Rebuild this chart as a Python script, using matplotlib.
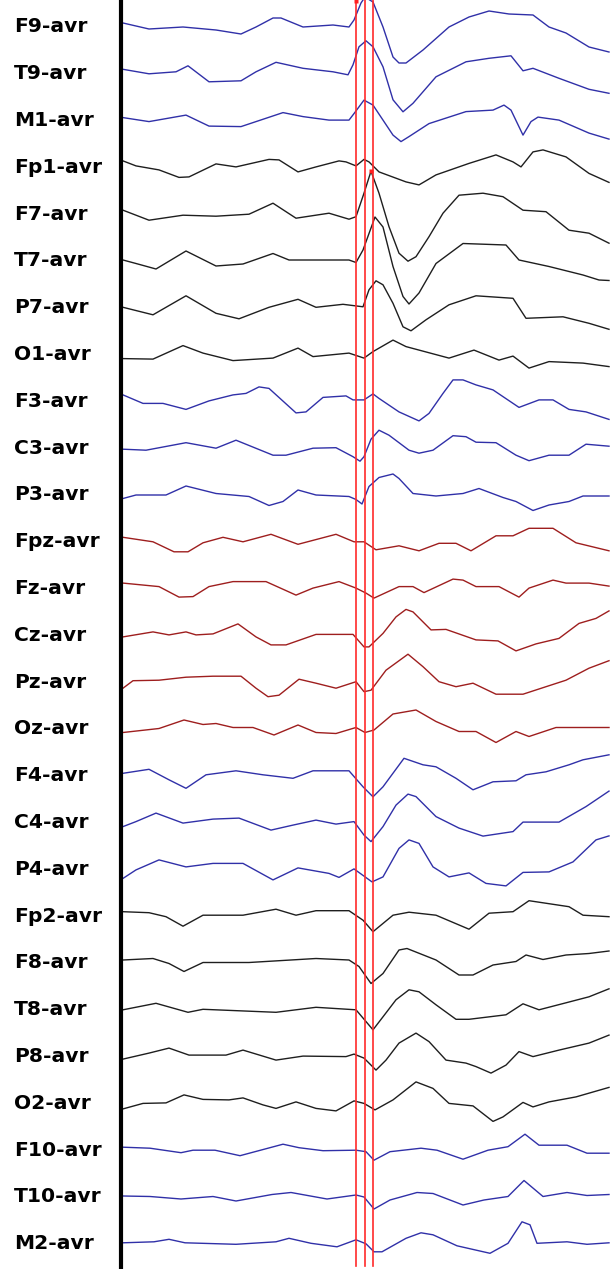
import matplotlib
matplotlib.use("Agg")
import matplotlib.pyplot as plt

# averaged-reference EEG montage, amplitude in display units (up = positive)
channels = ["F9", "T9", "M1", "Fp1", "F7", "T7", "P7", "O1", "F3", "C3", "P3",
            "Fpz", "Fz", "Cz", "Pz", "Oz", "F4", "C4", "P4", "Fp2", "F8", "T8",
            "P8", "O2", "F10", "T10", "M2"]
groups = ["L", "L", "L", "K", "K", "K", "K", "K", "L", "L", "L",
          "Z", "Z", "Z", "Z", "Z", "L", "L", "L", "K", "K", "K",
          "K", "K", "L", "L", "L"]

F9_t = [123, 149, 183, 216, 241, 256, 273, 281, 303, 333, 349, 354, 361, 365, 373, 383, 393, 399, 406, 423, 449, 469, 489, 509, 533, 549, 566, 589, 609]
F9_v = [4, -2, 0, -3, -7, 0, 9, 9, 0, 2, 0, 7, 24, 30, 25, 0, -30, -36, -36, -23, 0, 10, 16, 13, 12, 0, -6, -20, -25]
T9_t = [123, 149, 176, 188, 209, 241, 256, 276, 303, 333, 348, 353, 359, 366, 373, 383, 393, 403, 413, 436, 466, 489, 511, 523, 533, 559, 589, 609]
T9_v = [4.5, 0, 2, 8, -8, -7, 2, 11.5, 5.5, 2, -1, 9, 27, 33, 27, 7, -26, -38, -29.5, -3, 12, 15.5, 18, 3, 5.5, -4.5, -15.5, -19.5]
M1_t = [123, 149, 186, 209, 241, 256, 283, 303, 329, 349, 354, 364, 373, 383, 393, 401, 409, 429, 466, 493, 504, 511, 523, 531, 538, 559, 589, 609]
M1_v = [3, -1, 5.5, -5.5, -6, -1, 8, 4, 0.5, 0.5, 7, 20.5, 15.5, 0.5, -14.5, -21, -16, -3, 9, 10.5, 15.5, 10.5, -14.5, -1, 3.5, 0.5, -12.5, -18.5]
Fp1_t = [123, 136, 159, 179, 189, 216, 236, 269, 279, 298, 316, 339, 346, 356, 364, 369, 379, 406, 419, 436, 469, 496, 513, 521, 533, 543, 566, 589, 609]
Fp1_v = [6.5, 1.5, -2.5, -10, -9.5, 3.5, 0.5, 8, 7.5, -4.5, 0.5, 6.5, 5.5, 1.5, 8, 5.5, -4.5, -14.5, -17.5, -7.5, 4, 12.5, 5.5, 0.5, 15.5, 17.5, 10.5, -6, -15]
F7_t = [123, 149, 183, 216, 249, 273, 296, 329, 349, 356, 364, 371, 379, 389, 399, 408, 416, 429, 443, 459, 483, 503, 523, 546, 569, 589, 609]
F7_v = [4, -6, -1, -2, 0, 11, -4, 1, -5, -2.5, 21, 43, 21, -12.5, -39, -47, -42.5, -22.5, 1, 19, 21, 17.5, 4, 2.5, -16, -19, -29]
T7_t = [123, 136, 156, 186, 216, 243, 273, 289, 349, 356, 363, 375, 383, 393, 403, 409, 419, 436, 463, 506, 519, 549, 583, 599, 609]
T7_v = [1, -2.5, -8, 10, -5, -3, 7.5, 1, 1, -1.5, 11, 44, 34, -5.5, -35.5, -43, -32, -2.5, 17.5, 16, 1, -5.5, -14, -19, -19.5]
P7_t = [123, 153, 186, 216, 239, 269, 298, 316, 343, 363, 369, 376, 383, 393, 403, 411, 426, 449, 476, 513, 526, 563, 589, 609]
P7_v = [0.5, -7, 12, -5.5, -11, 0.5, 8.5, 0.5, 3.5, 1, 18, 27, 23, 4.5, -19, -23, -12, 3, 12, 9.5, -10.5, -9, -15.5, -21.5]
O1_t = [123, 153, 183, 203, 233, 273, 298, 313, 349, 364, 373, 393, 406, 449, 474, 499, 513, 529, 549, 583, 609]
O1_v = [-4, -4.5, 9, 1.5, -6, -3.5, 6.5, -2, 1.5, -3.5, 3, 14.5, 8, -3.5, 4.5, -5.5, -1.5, -13.5, -7, -8.5, -12]
F3_t = [123, 143, 163, 186, 209, 233, 246, 259, 269, 296, 306, 323, 346, 353, 364, 373, 379, 399, 419, 429, 443, 453, 463, 476, 493, 519, 539, 553, 569, 586, 609]
F3_v = [6.5, -2, -2, -8, 0.5, 6.5, 8, 14.5, 13, -11.5, -10.5, 4, 5.5, 1.5, 1.5, 7.5, 3, -10.5, -19.5, -12, 8, 21.5, 21.5, 16.5, 11.5, -6, 1.5, 1.5, -8, -10.5, -18]
C3_t = [123, 146, 186, 216, 236, 273, 286, 313, 336, 353, 360, 364, 371, 379, 389, 409, 419, 433, 453, 466, 476, 496, 516, 529, 549, 569, 586, 609]
C3_v = [-1, -2, 5.5, 0, 8, -7, -7, 0, 0.5, -8.5, -13, -8.5, 9, 18, 13, -2, -5, -2, 12.5, 11.5, 6, 5.5, -7, -12.5, -7, -7, 4, 2]
P3_t = [123, 136, 166, 186, 216, 249, 269, 283, 298, 316, 349, 356, 362, 369, 379, 393, 399, 413, 436, 463, 479, 503, 516, 533, 549, 569, 583, 609]
P3_v = [-3.5, 0, 0, 9, 1.5, -1.5, -10.5, -6.5, 5, 0, -1.5, -4.5, -9, 8.5, 17.5, 21, 16.5, 1.5, -1, 1.5, 6.5, -2.5, -6.5, -15.5, -10, -6.5, -1, -1]
Fpz_t = [123, 153, 174, 188, 203, 223, 243, 271, 298, 336, 354, 364, 376, 399, 419, 439, 456, 471, 496, 513, 529, 553, 576, 609]
Fpz_v = [4.5, 0, -10, -10, -1, 4.5, 0, 7.5, -2.5, 7.5, 0, 0, -8, -4, -9, -1.5, -1.5, -9, 6, 6, 13.5, 13.5, -1, -9]
Fz_t = [123, 159, 179, 193, 209, 233, 266, 296, 313, 339, 356, 366, 374, 399, 413, 424, 453, 463, 476, 499, 519, 529, 553, 566, 589, 609]
Fz_v = [5.5, 2, -8.5, -8, 2, 7, 7, -6.5, 0.5, 7, 0.5, -4.5, -9.5, 2, 2, -4, 9.5, 8.5, 2, 2, -8.5, 0.5, 8.5, 5.5, 5.5, 2.5]
Cz_t = [123, 153, 169, 186, 196, 213, 238, 256, 271, 286, 316, 353, 364, 369, 383, 396, 406, 413, 431, 446, 476, 498, 516, 536, 559, 579, 596, 609]
Cz_v = [-1.5, 3.5, 0.5, 3.5, 0.5, 1.5, 11.5, -1.5, -9.5, -9.5, 1, 1, -11.5, -11.5, 2, 18.5, 26, 23.5, 5.5, 6, -4.5, -5.5, -15.5, -8.5, -3, 12, 17, 24.5]
Pz_t = [123, 133, 159, 186, 213, 241, 256, 268, 279, 299, 316, 336, 356, 364, 371, 386, 408, 423, 439, 456, 473, 496, 523, 546, 566, 589, 609]
Pz_v = [-6, 1.5, 2, 5, 6, 6, -6, -14.5, -13, 3, -1, -6, 0.5, -9.5, -8, 12, 28, 15.5, 0.5, -4.5, -1, -12, -12, -4.5, 2, 14, 21.5]
Oz_t = [123, 159, 184, 203, 216, 233, 253, 274, 298, 316, 336, 356, 365, 374, 393, 416, 436, 459, 476, 496, 516, 529, 556, 609]
Oz_v = [-3.5, 0.5, 9, 4.5, 5.5, 1.5, 1.5, -6, 4, -3.5, -4.5, 1.5, -3.5, -1, 15, 19, 7.5, -2.5, -2.5, -13.5, -2.5, -7.5, 1.5, 1.5]
F4_t = [123, 149, 169, 186, 206, 236, 263, 293, 313, 349, 363, 373, 383, 404, 423, 436, 456, 473, 493, 516, 526, 546, 569, 583, 609]
F4_v = [2.5, 6.5, -4, -12.5, 1, 5, 1, -2.5, 5, 5, -11, -21, -11, 17.5, 11, 9, -2.5, -14, -6, -5, 1, 4, 11, 16, 21]
C4_t = [123, 136, 156, 183, 213, 239, 271, 293, 316, 336, 354, 364, 371, 383, 396, 408, 416, 436, 459, 483, 513, 523, 559, 586, 609]
C4_v = [-4, 1, 9.5, -0.5, 3.5, 4.5, -7.5, -2.5, 2.5, -1.5, 1, -12.5, -19, -4, 17.5, 28.5, 26, 6, -5.5, -13.5, -9, 0.5, 0.5, 16, 31.5]
P4_t = [123, 136, 159, 186, 213, 243, 273, 298, 329, 339, 354, 372, 383, 399, 409, 419, 433, 449, 469, 486, 506, 523, 549, 573, 596, 609]
P4_v = [-9, -0.5, 9.5, 2.5, 6, 6, -10.5, 1.5, -4, -8, 0.5, -12.5, -7.5, 21, 29.5, 26, 2.5, -7.5, -3.5, -14, -16.5, -3, -2.5, 7.5, 29.5, 33.5]
Fp2_t = [123, 149, 166, 183, 203, 243, 276, 296, 316, 349, 363, 373, 393, 409, 436, 469, 489, 513, 529, 569, 583, 609]
Fp2_v = [4.5, 3.5, -0.5, -10, 1, 1, 7, 1, 5.5, 5.5, -4, -15.5, 1, 4, 1, -13, 3, 4.5, 15.5, 9.5, 1, -0.5]
F8_t = [123, 153, 169, 184, 203, 249, 316, 349, 359, 371, 383, 399, 407, 436, 459, 473, 493, 516, 526, 543, 566, 589, 609]
F8_v = [3, 4.5, -0.5, -8.5, 0.5, 0.5, 4.5, 3, -3.5, -20.5, -10.5, 13, 14.5, 3, -12, -12, -2, 1.5, 8, 3.5, 8, 9.5, 12]
T8_t = [123, 156, 188, 203, 276, 316, 356, 373, 383, 396, 409, 419, 436, 456, 469, 506, 523, 539, 566, 589, 609]
T8_v = [0, 6.5, -2.5, 0.5, -2.5, 2.5, 0, -20, -7, 10, 20, 18, 5, -9.5, -9.5, -5, 6, 0, 7, 13, 21]
P8_t = [123, 149, 169, 189, 226, 243, 276, 303, 346, 354, 364, 376, 386, 399, 416, 429, 446, 466, 476, 491, 506, 519, 533, 559, 589, 609]
P8_v = [-2.5, 3.5, 8.5, 1.5, 1.5, 6.5, -3.5, 0.5, 0, 2.5, -1.5, -13.5, -3.5, 13.5, 23.5, 15, -3.5, -6.5, -10, -16.5, -8.5, 5, 0, 6.5, 13.5, 21.5]
O2_t = [123, 143, 166, 184, 203, 229, 243, 263, 276, 296, 316, 336, 354, 364, 375, 393, 416, 433, 449, 473, 493, 503, 523, 533, 549, 576, 609]
O2_v = [-5.5, 0, 0.5, 8.5, 4, 3.5, 5.5, -1.5, -5, 1.5, -5, -7.5, 2.5, 0, -6.5, 3.5, 21.5, 15, 0, -2.5, -18, -13.5, 1, -3.5, 1.5, 6.5, 16]
F10_t = [123, 150, 181, 193, 215, 240, 283, 299, 323, 356, 366, 374, 390, 421, 437, 463, 488, 508, 525, 539, 567, 587, 609]
F10_v = [3, 2, -2.5, 0, 0, -5.5, 6, 2.5, -0.5, 0, -1.5, -10, -1.5, 2, 0, -9, 0, 3.5, 16, 5, 5, -3, -3]
T10_t = [123, 150, 181, 213, 236, 272, 291, 327, 356, 364, 374, 390, 417, 433, 463, 484, 508, 524, 543, 567, 587, 609]
T10_v = [1, 0.5, -2, 0.5, -4, 2.5, 4.5, -2, 2, 0, -12, -3, 4.5, 3.5, -8, -3, 0.5, 16.5, 0.5, 4.5, 1.5, 2.5]
M2_t = [123, 154, 169, 185, 236, 276, 289, 311, 337, 356, 366, 374, 382, 406, 421, 433, 457, 490, 508, 522, 530, 537, 567, 587, 609]
M2_v = [1, 2, 4.5, 1, -0.5, 2, 5.5, 0.5, -3, 4, 0, -8, -8, 5.5, 11, 9, -2, -9.5, 0.5, 22, 19, 0.5, 2, -0.5, 1]

data = {name: (globals()[name + "_t"], globals()[name + "_v"]) for name in channels}

# cursor positions and marked peaks
cursors = [356, 365, 372.5]
marks_t = [356, 371]
marks_ch = ["F9", "F7"]
marks_v = [26, 43]

colors = {"L": "#3030A8", "K": "#1E1E1E", "Z": "#9E1E1E"}

fig = plt.figure(figsize=(6.16, 12.69), dpi=100)
ax = fig.add_axes([0, 0, 1, 1])
ax.set_xlim(0, 616)
ax.set_ylim(1269, 0)
ax.axis("off")

spacing = 46.8
first = 27
for i, name in enumerate(channels):
    t, v = data[name]
    base = first + i * spacing
    ax.plot(t, [base - a for a in v], color=colors[groups[i]], lw=1.0, solid_joinstyle="round")
    ax.text(14, base, name + "-avr", ha="left", va="center", fontsize=14.6,
            fontweight="bold", family="DejaVu Sans", color="black")

ax.axvline(121, color="black", lw=3)
for c in cursors:
    ax.plot([c, c], [0, 1266], color="#FF2A2A", lw=1.2)

for t, ch, v in zip(marks_t, marks_ch, marks_v):
    base = first + channels.index(ch) * spacing
    ax.plot(t, base - v, "s", color="#FF2020", ms=3, mec="none")

fig.savefig("out.png", dpi=100)
